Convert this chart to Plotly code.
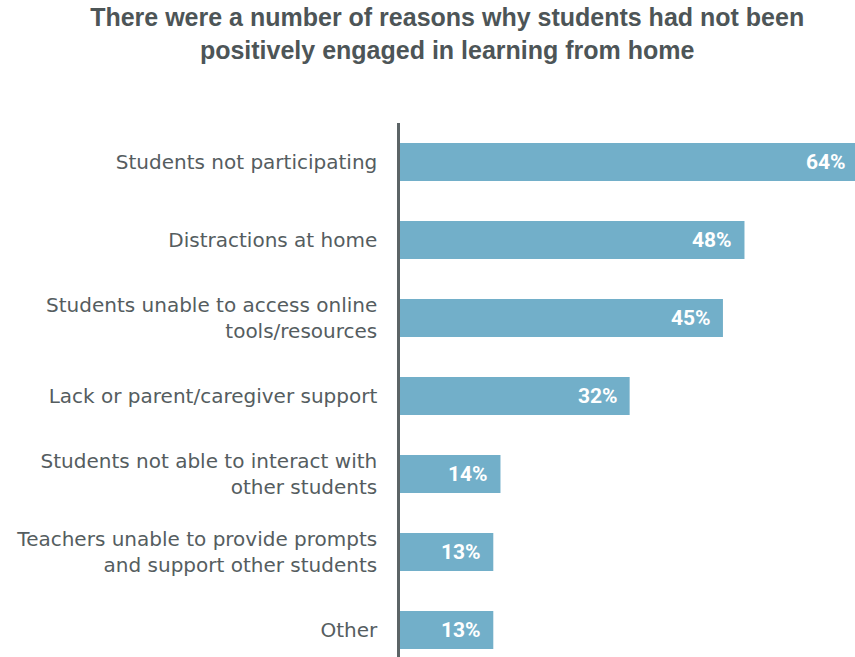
import plotly.graph_objects as go

categories = [
    "Students not participating",
    "Distractions at home",
    "Students unable to access online<br>tools/resources",
    "Lack or parent/caregiver support",
    "Students not able to interact with<br>other students",
    "Teachers unable to provide prompts<br>and support other students",
    "Other",
]
values = [64, 48, 45, 32, 14, 13, 13]
value_labels = [f"{v}%" for v in values]

BAR_COLOR = "#72afc9"
TEXT_COLOR = "#555d5f"
X_MAX = 63.4

fig = go.Figure(
    go.Bar(
        x=values,
        y=categories,
        orientation="h",
        marker=dict(color=BAR_COLOR, line=dict(width=0)),
        hoverinfo="skip",
    )
)

# value labels sit inside the right end of each bar
for cat, v, lab in zip(categories, values, value_labels):
    fig.add_annotation(
        x=min(v, X_MAX), y=cat, text=f"<b>{lab}</b>", showarrow=False,
        xanchor="right", yanchor="middle", xshift=-7 if v > X_MAX else -10,
        font=dict(family="Roboto", size=21, color="white"),
    )

fig.update_layout(
    width=855, height=657,
    margin=dict(l=400, r=0, t=123, b=0),
    paper_bgcolor="white", plot_bgcolor="white",
    bargap=0.513,
    showlegend=False,
    title=dict(
        text="<b>There were a number of reasons why students had not been<br>positively engaged in learning from home</b>",
        x=0.523, xanchor="center", y=0.96, yanchor="top",
        font=dict(family="Liberation Sans", size=25, color="#4d5557"),
    ),
    xaxis=dict(range=[0, X_MAX], visible=False, fixedrange=True),
    yaxis=dict(
        range=[6.346, -0.5],
        showline=True, linecolor="#5c6466", linewidth=2.5,
        showgrid=False, zeroline=False, ticks="",
        ticklabelstandoff=16,
        tickfont=dict(family="DejaVu Sans", size=20, color=TEXT_COLOR),
    ),
)

fig.write_html("out.html")
